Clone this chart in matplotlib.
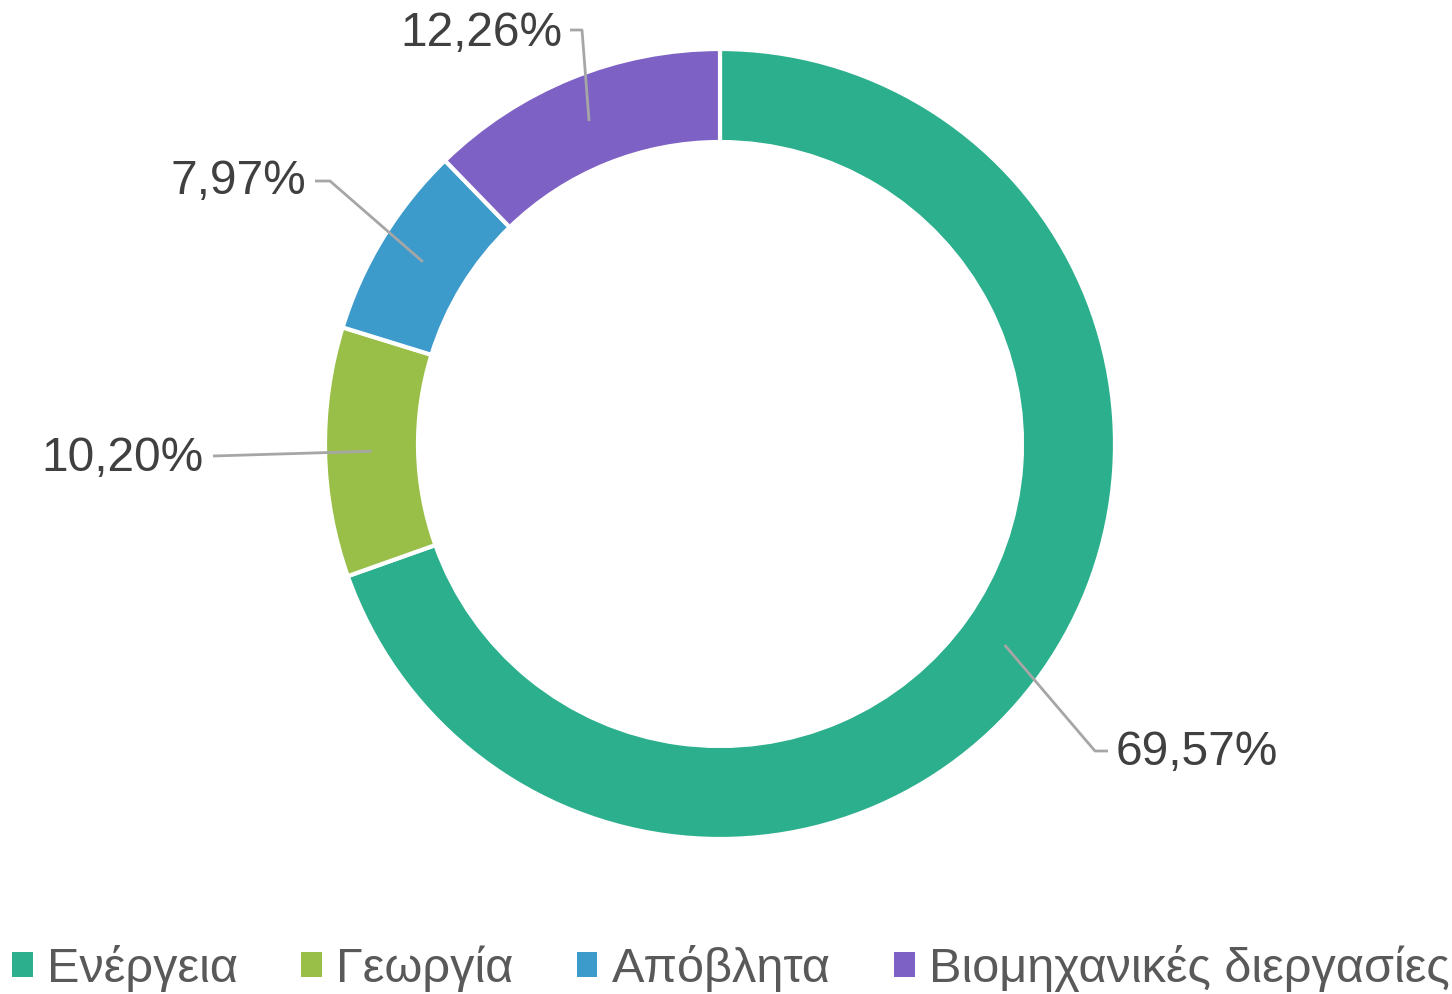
import matplotlib
matplotlib.use("Agg")
import matplotlib.pyplot as plt
from matplotlib.patches import Patch
import numpy as np

categories = ["Ενέργεια", "Γεωργία", "Απόβλητα", "Βιομηχανικές διεργασίες"]
values = [69.57, 10.20, 7.97, 12.26]
labels = ["69,57%", "10,20%", "7,97%", "12,26%"]
colors = ["#2BAF8C", "#99BF48", "#3D9BCC", "#7E61C4"]

plt.rcParams['font.family'] = ['Liberation Sans', 'DejaVu Sans']

W, H = 1452, 995
fig = plt.figure(figsize=(W / 100, H / 100), dpi=100)
ax = fig.add_axes([0, 0, 1, 1])

cx, cy = 720, H - 445
R = 395
width = 93
wedges, _ = ax.pie(values, colors=colors, startangle=90, counterclock=False,
                   center=(cx, cy), radius=R,
                   wedgeprops=dict(width=width, edgecolor='white', linewidth=3),
                   frame=True)
ax.set_xlim(0, W)
ax.set_ylim(0, H)
ax.set_aspect('equal')
ax.axis('off')

# label layout: elbow point, end point of horizontal stub, text anchor, alignment
layout = [
    ((1095, H - 752), (1108, H - 752), (1116, H - 753), 'left'),
    ((213, H - 457), (213, H - 457), (204, H - 459), 'right'),
    ((330, H - 182), (315, H - 182), (306, H - 182), 'right'),
    ((582, H - 31), (570, H - 31), (563, H - 34), 'right'),
]
mid_r = R - width / 2
for w, lab, (elbow, stub, txt, ha) in zip(wedges, labels, layout):
    ang = np.deg2rad((w.theta1 + w.theta2) / 2)
    sx, sy = cx + mid_r * np.cos(ang), cy + mid_r * np.sin(ang)
    ax.plot([sx, elbow[0], stub[0]], [sy, elbow[1], stub[1]],
            color='#A6A6A6', lw=2, solid_capstyle='butt', zorder=5)
    ax.text(txt[0], txt[1], lab, ha=ha, va='center', fontsize=34.5, color='#404040')

handles = [Patch(facecolor=c, edgecolor='none') for c in colors]
fig.legend(handles, categories, loc='center', bbox_to_anchor=(0.5035, 26 / H),
           ncol=4, frameon=False, fontsize=35, labelcolor='#595959',
           handlelength=0.42, handleheight=0.42, handletextpad=0.3,
           columnspacing=1.3, borderpad=0, borderaxespad=0)

fig.savefig("out.png", dpi=100, facecolor='white')
